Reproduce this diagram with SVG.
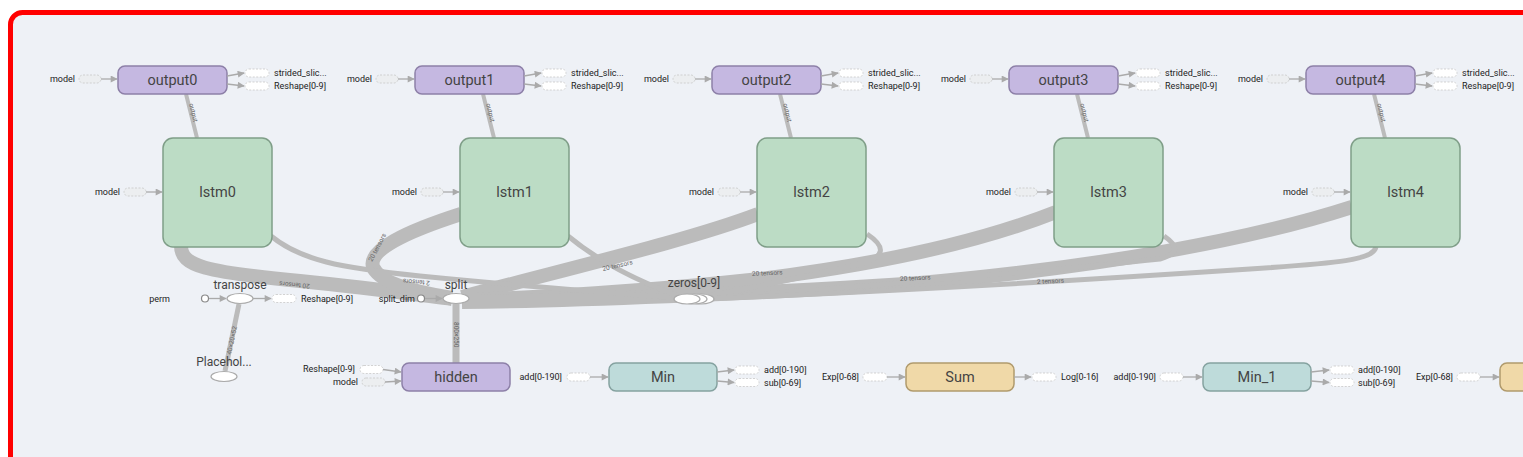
<svg xmlns="http://www.w3.org/2000/svg" width="1523" height="457" viewBox="0 0 1523 457">
<defs>
<marker id="ah" viewBox="0 0 10 10" refX="9" refY="5" markerWidth="8" markerHeight="7" markerUnits="userSpaceOnUse" orient="auto"><path d="M0,0 L10,5 L0,10 z" fill="#aaa"/></marker>
<style>
.bg{fill:#eef1f6;stroke:#ff0000;stroke-width:5}
.lbl{font-family:Roboto,"Liberation Sans",sans-serif;font-size:9px;fill:#222}
.nl{font-family:Roboto,"Liberation Sans",sans-serif;font-size:14.5px;fill:#444;text-anchor:middle}
.ol{font-family:Roboto,"Liberation Sans",sans-serif;font-size:12px;fill:#444;text-anchor:middle}
.el{font-family:Roboto,"Liberation Sans",sans-serif;font-size:6.5px;fill:#666}
.pill{fill:#fff;stroke:#c8c8c8;stroke-width:0.8;stroke-dasharray:2 1.5}
.pillg{fill:#eceef0;stroke:#c8c8c8;stroke-width:0.8;stroke-dasharray:2 1.5}
.arr{stroke:#aaa;stroke-width:1.3;fill:none;marker-end:url(#ah)}
.band{stroke:#bbb;fill:none;stroke-linecap:butt}
.purple{fill:#c5b8e1;stroke:#8d80a8;stroke-width:1.5}
.green{fill:#bcdcc5;stroke:#7f9e88;stroke-width:1.5}
.teal{fill:#bedbda;stroke:#85a2a0;stroke-width:1.5}
.tan{fill:#f0d9a8;stroke:#b09a6c;stroke-width:1.5}
.op{fill:#fff;stroke:#aaa;stroke-width:1.2}
.cst{fill:#fff;stroke:#888;stroke-width:1.2}
</style>
</defs>
<rect x="0" y="0" width="1523" height="457" fill="#fff"/>
<rect class="bg" x="10.5" y="12.5" width="1540" height="480" rx="12"/>

<g id="connectors">
<!-- output -> lstm -->
<g stroke="#bbb" stroke-width="4">
<line x1="186" y1="94" x2="197" y2="138"/>
<line x1="483" y1="94" x2="494" y2="138"/>
<line x1="780" y1="94" x2="791" y2="138"/>
<line x1="1077" y1="94" x2="1088" y2="138"/>
<line x1="1374" y1="94" x2="1385" y2="138"/>
</g>
<g class="el" font-size="5.5">
<text transform="translate(189,104) rotate(76)">output</text>
<text transform="translate(486,104) rotate(76)">output</text>
<text transform="translate(783,104) rotate(76)">output</text>
<text transform="translate(1080,104) rotate(76)">output</text>
<text transform="translate(1377,104) rotate(76)">output</text>
</g>
<!-- thick bands lstm -> split -->
<g class="band" stroke-width="14">
<path d="M 181 246 C 181 266, 205 272, 300 281 C 370 288, 420 295, 452 299"/>
<path d="M 461 214 C 405 232, 368 250, 373 267 C 380 284, 420 293, 452 298"/>
<path d="M 758 214 C 690 240, 570 268, 462 297"/>
<path d="M 1056 212 C 980 242, 880 264, 760 279 C 650 291, 530 298, 462 300"/>
<path d="M 1352 207 C 1250 240, 1100 267, 920 283 C 760 294, 560 301, 462 302"/>
</g>
<!-- thin lstm -> zeros -->
<g class="band" stroke-width="5">
<path d="M 271 236 C 300 260, 340 268, 420 276 C 500 284, 600 292, 680 298"/>
<path d="M 568 236 C 592 256, 625 277, 684 298"/>
<path d="M 867 234 C 885 246, 887 257, 860 264 C 800 278, 740 291, 692 298"/>
<path d="M 1164 236 C 1177 245, 1181 253, 1160 259 C 1000 276, 800 291, 698 299"/>
<path d="M 1376 247 C 1373 260, 1340 263, 1250 269 C 1100 279, 900 291, 704 299"/>
</g>
<g class="el">
<text transform="translate(310,284) rotate(185)">20 tensors</text>
<text transform="translate(372,262) rotate(-62)">20 tensors</text>
<text transform="translate(430,281) rotate(185)">2 tensors</text>
<text transform="translate(603,271) rotate(-13)">20 tensors</text>
<text transform="translate(752,276) rotate(-3)">20 tensors</text>
<text transform="translate(900,281) rotate(-3)">20 tensors</text>
<text transform="translate(1037,284) rotate(-3)">2 tensors</text>
</g>
<!-- split -> hidden -->
<line x1="456" y1="304" x2="456" y2="363" stroke="#bbb" stroke-width="7"/>
<text class="el" font-size="5.5" transform="translate(454,322) rotate(90)">800×250</text>
<!-- placeholder -> transpose -->
<line x1="225" y1="371" x2="239" y2="304" stroke="#bbb" stroke-width="5"/>
<text class="el" font-size="5.5" transform="translate(231,355) rotate(-78)">40×20×52</text>
</g>

<g id="outputs">
<g id="output0">
<text class="lbl" x="75" y="82" text-anchor="end">model</text><rect class="pillg" x="79" y="75" width="22" height="8" rx="4"/><line class="arr" x1="101" y1="79" x2="117" y2="79"/>
<rect class="purple" x="118" y="66" width="109" height="28" rx="7"/><text class="nl" x="172.5" y="85">output0</text>
<line class="arr" x1="227" y1="76" x2="244" y2="73"/><line class="arr" x1="227" y1="84" x2="244" y2="86"/>
<rect class="pill" x="245" y="69" width="24" height="8" rx="4"/><rect class="pill" x="245" y="82" width="24" height="8" rx="4"/>
<text class="lbl" x="274" y="76">strided_slic...</text><text class="lbl" x="274" y="89">Reshape[0-9]</text>
</g>
<g id="output1" transform="translate(297,0)">
<text class="lbl" x="75" y="82" text-anchor="end">model</text><rect class="pillg" x="79" y="75" width="22" height="8" rx="4"/><line class="arr" x1="101" y1="79" x2="117" y2="79"/>
<rect class="purple" x="118" y="66" width="109" height="28" rx="7"/><text class="nl" x="172.5" y="85">output1</text>
<line class="arr" x1="227" y1="76" x2="244" y2="73"/><line class="arr" x1="227" y1="84" x2="244" y2="86"/>
<rect class="pill" x="245" y="69" width="24" height="8" rx="4"/><rect class="pill" x="245" y="82" width="24" height="8" rx="4"/>
<text class="lbl" x="274" y="76">strided_slic...</text><text class="lbl" x="274" y="89">Reshape[0-9]</text>
</g>
<g id="output2" transform="translate(594,0)">
<text class="lbl" x="75" y="82" text-anchor="end">model</text><rect class="pillg" x="79" y="75" width="22" height="8" rx="4"/><line class="arr" x1="101" y1="79" x2="117" y2="79"/>
<rect class="purple" x="118" y="66" width="109" height="28" rx="7"/><text class="nl" x="172.5" y="85">output2</text>
<line class="arr" x1="227" y1="76" x2="244" y2="73"/><line class="arr" x1="227" y1="84" x2="244" y2="86"/>
<rect class="pill" x="245" y="69" width="24" height="8" rx="4"/><rect class="pill" x="245" y="82" width="24" height="8" rx="4"/>
<text class="lbl" x="274" y="76">strided_slic...</text><text class="lbl" x="274" y="89">Reshape[0-9]</text>
</g>
<g id="output3" transform="translate(891,0)">
<text class="lbl" x="75" y="82" text-anchor="end">model</text><rect class="pillg" x="79" y="75" width="22" height="8" rx="4"/><line class="arr" x1="101" y1="79" x2="117" y2="79"/>
<rect class="purple" x="118" y="66" width="109" height="28" rx="7"/><text class="nl" x="172.5" y="85">output3</text>
<line class="arr" x1="227" y1="76" x2="244" y2="73"/><line class="arr" x1="227" y1="84" x2="244" y2="86"/>
<rect class="pill" x="245" y="69" width="24" height="8" rx="4"/><rect class="pill" x="245" y="82" width="24" height="8" rx="4"/>
<text class="lbl" x="274" y="76">strided_slic...</text><text class="lbl" x="274" y="89">Reshape[0-9]</text>
</g>
<g id="output4" transform="translate(1188,0)">
<text class="lbl" x="75" y="82" text-anchor="end">model</text><rect class="pillg" x="79" y="75" width="22" height="8" rx="4"/><line class="arr" x1="101" y1="79" x2="117" y2="79"/>
<rect class="purple" x="118" y="66" width="109" height="28" rx="7"/><text class="nl" x="172.5" y="85">output4</text>
<line class="arr" x1="227" y1="76" x2="244" y2="73"/><line class="arr" x1="227" y1="84" x2="244" y2="86"/>
<rect class="pill" x="245" y="69" width="24" height="8" rx="4"/><rect class="pill" x="245" y="82" width="24" height="8" rx="4"/>
<text class="lbl" x="274" y="76">strided_slic...</text><text class="lbl" x="274" y="89">Reshape[0-9]</text>
</g>
</g>

<g id="lstms">
<g id="lstm0">
<text class="lbl" x="120" y="195" text-anchor="end">model</text><rect class="pillg" x="124" y="188" width="22" height="8" rx="4"/><line class="arr" x1="146" y1="192" x2="162" y2="192"/>
<rect class="green" x="163" y="138" width="109" height="109" rx="10"/><text class="nl" x="217.5" y="197" font-size="15">lstm0</text>
</g>
<g id="lstm1" transform="translate(297,0)">
<text class="lbl" x="120" y="195" text-anchor="end">model</text><rect class="pillg" x="124" y="188" width="22" height="8" rx="4"/><line class="arr" x1="146" y1="192" x2="162" y2="192"/>
<rect class="green" x="163" y="138" width="109" height="109" rx="10"/><text class="nl" x="217.5" y="197" font-size="15">lstm1</text>
</g>
<g id="lstm2" transform="translate(594,0)">
<text class="lbl" x="120" y="195" text-anchor="end">model</text><rect class="pillg" x="124" y="188" width="22" height="8" rx="4"/><line class="arr" x1="146" y1="192" x2="162" y2="192"/>
<rect class="green" x="163" y="138" width="109" height="109" rx="10"/><text class="nl" x="217.5" y="197" font-size="15">lstm2</text>
</g>
<g id="lstm3" transform="translate(891,0)">
<text class="lbl" x="120" y="195" text-anchor="end">model</text><rect class="pillg" x="124" y="188" width="22" height="8" rx="4"/><line class="arr" x1="146" y1="192" x2="162" y2="192"/>
<rect class="green" x="163" y="138" width="109" height="109" rx="10"/><text class="nl" x="217.5" y="197" font-size="15">lstm3</text>
</g>
<g id="lstm4" transform="translate(1188,0)">
<text class="lbl" x="120" y="195" text-anchor="end">model</text><rect class="pillg" x="124" y="188" width="22" height="8" rx="4"/><line class="arr" x1="146" y1="192" x2="162" y2="192"/>
<rect class="green" x="163" y="138" width="109" height="109" rx="10"/><text class="nl" x="217.5" y="197" font-size="15">lstm4</text>
</g>
</g>

<g id="transpose">
<text class="lbl" x="170" y="302" text-anchor="end">perm</text>
<circle class="cst" cx="205" cy="298.5" r="3.5"/>
<line class="arr" x1="209" y1="298.5" x2="226" y2="298.5"/>
<ellipse class="op" cx="240" cy="298.5" rx="13" ry="5"/>
<text class="ol" x="240" y="289">transpose</text>
<line class="arr" x1="253" y1="298.5" x2="271" y2="298.5"/>
<rect class="pill" x="272" y="294.5" width="24" height="8" rx="4"/>
<text class="lbl" x="301" y="302">Reshape[0-9]</text>
</g>
<g id="placeholder">
<ellipse class="op" cx="224" cy="376.5" rx="13" ry="5"/>
<text class="ol" x="224" y="366">Placehol...</text>
</g>
<g id="split">
<text class="lbl" x="415" y="302" text-anchor="end">split_dim</text>
<circle class="cst" cx="421" cy="298.5" r="3.5"/>
<line class="arr" x1="425" y1="298.5" x2="442" y2="298.5"/>
<ellipse class="op" cx="456" cy="298.5" rx="13" ry="5"/>
<text class="ol" x="456" y="289">split</text>
</g>
<g id="zeros">
<ellipse class="op" cx="701" cy="299" rx="13" ry="5"/>
<ellipse class="op" cx="694" cy="299" rx="13" ry="5"/>
<ellipse class="op" cx="687" cy="299" rx="13" ry="5"/>
<text class="ol" x="694" y="287" font-size="13">zeros[0-9]</text>
</g>

<g id="hidden">
<text class="lbl" x="355" y="372" text-anchor="end">Reshape[0-9]</text>
<rect class="pill" x="360" y="365.5" width="23" height="8" rx="4"/>
<line class="arr" x1="383" y1="369.5" x2="401" y2="372"/>
<text class="lbl" x="358" y="385" text-anchor="end">model</text>
<rect class="pillg" x="362" y="378" width="23" height="8" rx="4"/>
<line class="arr" x1="385" y1="382" x2="401" y2="381"/>
<rect class="purple" x="402" y="363" width="108" height="28" rx="7"/>
<text class="nl" x="456" y="382">hidden</text>
</g>
<g id="min">
<text class="lbl" x="562" y="380" text-anchor="end">add[0-190]</text>
<rect class="pill" x="567" y="373" width="23" height="8" rx="4"/>
<line class="arr" x1="590" y1="377" x2="608" y2="377"/>
<rect class="teal" x="609" y="363" width="108" height="28" rx="7"/>
<text class="nl" x="663" y="382">Min</text>
<line class="arr" x1="717" y1="372" x2="734" y2="370"/>
<line class="arr" x1="717" y1="381" x2="734" y2="382.5"/>
<rect class="pill" x="735" y="366" width="24" height="8" rx="4"/>
<rect class="pill" x="735" y="378.5" width="24" height="8" rx="4"/>
<text class="lbl" x="764" y="373">add[0-190]</text>
<text class="lbl" x="764" y="385.5">sub[0-69]</text>
</g>
<g id="sum">
<text class="lbl" x="859" y="380" text-anchor="end">Exp[0-68]</text>
<rect class="pill" x="863" y="373" width="24" height="8" rx="4"/>
<line class="arr" x1="887" y1="377" x2="905" y2="377"/>
<rect class="tan" x="906" y="363" width="108" height="28" rx="7"/>
<text class="nl" x="960" y="382">Sum</text>
<line class="arr" x1="1014" y1="377" x2="1031" y2="377"/>
<rect class="pill" x="1032" y="373" width="24" height="8" rx="4"/>
<text class="lbl" x="1061" y="380">Log[0-16]</text>
</g>
<g id="min_1">
<text class="lbl" x="1156" y="380" text-anchor="end">add[0-190]</text>
<rect class="pill" x="1160" y="373" width="23" height="8" rx="4"/>
<line class="arr" x1="1183" y1="377" x2="1202" y2="377"/>
<rect class="teal" x="1203" y="363" width="108" height="28" rx="7"/>
<text class="nl" x="1257" y="382">Min_1</text>
<line class="arr" x1="1311" y1="372" x2="1329" y2="370"/>
<line class="arr" x1="1311" y1="381" x2="1329" y2="382.5"/>
<rect class="pill" x="1330" y="366" width="24" height="8" rx="4"/>
<rect class="pill" x="1330" y="378.5" width="24" height="8" rx="4"/>
<text class="lbl" x="1358" y="373">add[0-190]</text>
<text class="lbl" x="1358" y="385.5">sub[0-69]</text>
</g>
<g id="sum_1">
<text class="lbl" x="1453" y="380" text-anchor="end">Exp[0-68]</text>
<rect class="pill" x="1457" y="373" width="23" height="8" rx="4"/>
<line class="arr" x1="1480" y1="377" x2="1499" y2="377"/>
<rect class="tan" x="1500" y="363" width="108" height="28" rx="7"/>
</g>
</svg>
